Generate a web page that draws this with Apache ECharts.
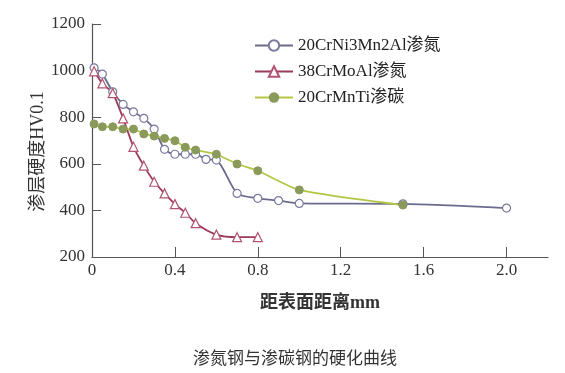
<!DOCTYPE html>
<html><head><meta charset="utf-8">
<script src="https://cdn.jsdelivr.net/npm/echarts@6/dist/echarts.min.js"></script>
<style>html,body{margin:0;padding:0;background:#fff}#c{width:565px;height:373px}</style>
</head><body><div id="c"></div>
<script>
var seriesNames = ['20CrNi3Mn2Al渗氮', '38CrMoAl渗氮', '20CrMnTi渗碳'];
var xTicks = [0, 0.4, 0.8, 1.2, 1.6, 2.0];
var xTickLabels = ['0', '0.4', '0.8', '1.2', '1.6', '2.0'];
var s1x = [0.01, 0.05, 0.10, 0.15, 0.20, 0.25, 0.30, 0.35, 0.40, 0.45, 0.50, 0.55, 0.60, 0.70, 0.80, 0.90, 1.0, 1.5, 2.0];
var s1y = [1012, 985, 909, 855, 823, 795, 749, 662, 641, 641, 641, 619, 616, 473, 452, 442, 430, 428, 410];
var s2x = [0.01, 0.05, 0.10, 0.15, 0.20, 0.25, 0.30, 0.35, 0.40, 0.45, 0.50, 0.60, 0.70, 0.80];
var s2y = [997, 945, 903, 795, 673, 592, 523, 473, 427, 390, 345, 296, 285, 285];
var s3x = [0.01, 0.05, 0.10, 0.15, 0.20, 0.25, 0.30, 0.35, 0.40, 0.45, 0.50, 0.60, 0.70, 0.80, 1.0, 1.5];
var s3y = [771, 759, 759, 749, 749, 728, 719, 709, 699, 671, 659, 641, 599, 570, 488, 423];

function zip(xs, ys){ return xs.map(function(x,i){ return [x, ys[i]]; }); }
var serif = '"Liberation Serif", "Noto Sans CJK SC", serif';
var chart = echarts.init(document.getElementById('c'), null, {renderer:'canvas'});
chart.setOption({
  animation: false,
  backgroundColor: '#fff',
  title: {
    text: '渗氮钢与渗碳钢的硬化曲线',
    left: 290, top: 344, textAlign: 'center',
    textStyle: {fontFamily: '"Noto Sans CJK SC"', fontSize: 17, fontWeight: 'normal', color: '#333'}
  },
  legend: {
    orient: 'vertical', left: 249, top: 32, itemGap: 9, itemWidth: 38, itemHeight: 13,
    textStyle: {fontFamily: serif, fontSize: 17, color: '#222'},
    data: seriesNames
  },
  grid: {left: 92, top: 24, right: 17, bottom: 116, containLabel: false},
  xAxis: {
    type: 'value', min: 0, max: 2.2, interval: 0.4,
    name: '距表面距离mm', nameLocation: 'middle', nameGap: 37,
    nameTextStyle: {fontFamily: serif, fontSize: 18, fontWeight: 'bold', color: '#333'},
    axisLine: {lineStyle: {color: '#555', width: 1.2}},
    axisTick: {inside: true, length: 10, lineStyle: {color: '#555'}, customValues: xTicks},
    axisLabel: {customValues: xTicks, fontFamily: serif, fontSize: 17, color: '#333', margin: 5,
      formatter: function(v){ var i = xTicks.indexOf(v); return i >= 0 ? xTickLabels[i] : ''; }},
    splitLine: {show: false}
  },
  yAxis: {
    type: 'value', min: 200, max: 1200, interval: 200,
    name: '渗层硬度HV0.1', nameLocation: 'middle', nameGap: 45, nameRotate: 90,
    nameMoveOverlap: false,
    nameTextStyle: {fontFamily: serif, fontSize: 18, color: '#333', padding: [0, 22, 0, 0]},
    axisLine: {show: true, lineStyle: {color: '#555', width: 1.2}},
    axisTick: {show: true, inside: true, length: 9, lineStyle: {color: '#555'}},
    axisLabel: {fontFamily: serif, fontSize: 17, color: '#333', margin: 7,
      formatter: function(v){ return String(v); }},
    splitLine: {show: false}
  },
  series: [
    {name: seriesNames[0], type: 'line', smooth: 0.25, data: zip(s1x, s1y),
     symbol: 'circle', symbolSize: 8,
     lineStyle: {color: '#6b6b8e', width: 1.8},
     itemStyle: {color: '#fff', borderColor: '#7a7a9e', borderWidth: 1.2}},
    {name: seriesNames[1], type: 'line', smooth: 0.25, data: zip(s2x, s2y),
     symbol: 'triangle', symbolSize: 9,
     lineStyle: {color: '#9c3a5a', width: 1.8},
     itemStyle: {color: '#fff', borderColor: '#b05570', borderWidth: 1.2}},
    {name: seriesNames[2], type: 'line', smooth: 0.2, data: zip(s3x, s3y),
     symbol: 'circle', symbolSize: 8,
     lineStyle: {color: '#b4c545', width: 1.8},
     itemStyle: {color: '#8a9a5b', borderColor: '#8a9a5b'}}
  ]
});
</script></body></html>
